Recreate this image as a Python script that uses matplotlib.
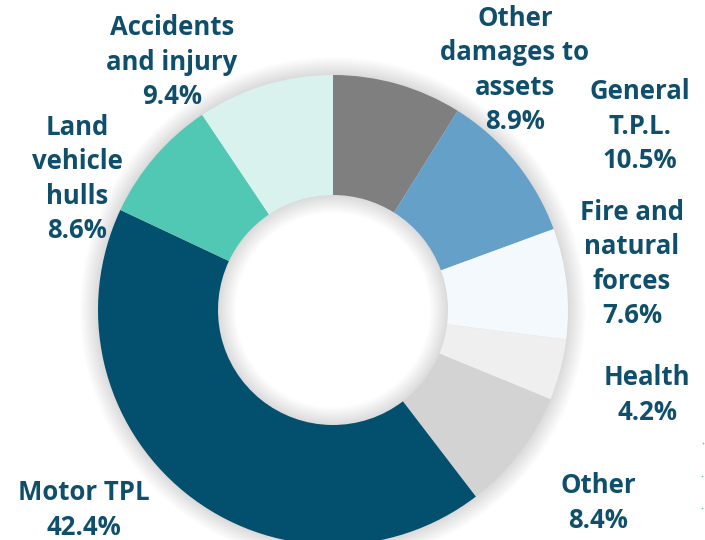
import matplotlib.pyplot as plt
from matplotlib.patches import Wedge

# data, clockwise from 12 o'clock
labels = ["Other\ndamages to\nassets", "General\nT.P.L.", "Fire and\nnatural\nforces",
          "Health", "Other", "Motor TPL", "Land\nvehicle\nhulls", "Accidents\nand injury"]
shares = [8.9, 10.5, 7.6, 4.2, 8.4, 42.4, 8.6, 9.4]
colors = ["#7f7f7f", "#64a0c8", "#f4f9fd", "#efefef", "#d3d3d3",
          "#02506e", "#50c8b4", "#d9f2ee"]

# label anchor points in pixel coords (x, y from top)
label_pos = [(515, 70), (640, 126), (632, 264), (647, 395), (598, 503),
             (84, 510), (77, 179), (172, 62)]

W, H = 705, 540
cx, cy = 333, 310
R_OUT = 235
R_IN = 115
text_color = "#0f4f6c"

fig = plt.figure(figsize=(W / 100, H / 100), dpi=100)
ax = fig.add_axes([0, 0, 1, 1])

center = (cx, H - cy)

# soft glow around the ring
for k in range(1, 19):
    ax.add_patch(Wedge(center, R_OUT + k, 0, 360, width=R_OUT - R_IN + 2 * k,
                       facecolor="#000000", alpha=0.009, linewidth=0, zorder=1))

ax.pie(shares, colors=colors, startangle=90, counterclock=False,
       center=center, radius=R_OUT, frame=True,
       wedgeprops=dict(width=R_OUT - R_IN, linewidth=0, zorder=2))
ax.set_xlim(0, W)
ax.set_ylim(0, H)
ax.set_aspect("equal")
ax.axis("off")

for lab, val, (x, y) in zip(labels, shares, label_pos):
    ax.text(x, H - y, f"{lab}\n{val}%", ha="center", va="center",
            fontsize=18.5, fontweight="bold", family="Open Sans",
            color=text_color, linespacing=1.35, zorder=5)

# tiny stray dots at the right edge of the original
ax.scatter([703, 702, 702], [H - 443, H - 476, H - 508], s=1.5,
           color="#50c8b4", linewidths=0, zorder=5)

fig.savefig("out.png", dpi=100)
